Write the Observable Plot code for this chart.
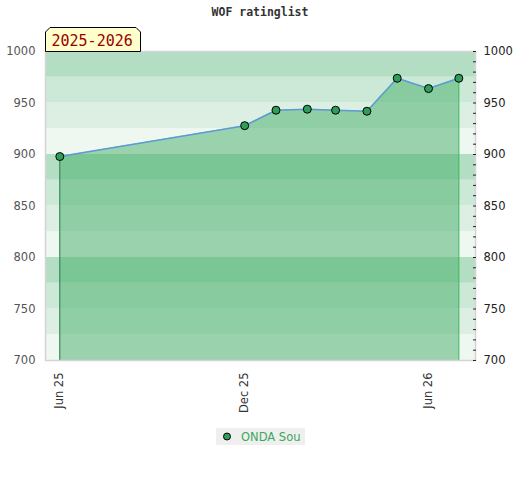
<!DOCTYPE html>
<html><head><meta charset="utf-8">
<script src="https://cdn.jsdelivr.net/npm/d3@7"></script>
<script src="https://cdn.jsdelivr.net/npm/@observablehq/plot@0.6"></script>
<style>
body{margin:0;background:#fff;}
#wrap{position:relative;width:520px;height:480px;overflow:hidden;font-family:"DejaVu Sans",sans-serif;}
#chart{position:absolute;left:0;top:0;}
#title{position:absolute;top:5px;left:0;width:520px;text-align:center;font:bold 11.5px "DejaVu Sans Mono",monospace;color:#333;}
#badge{position:absolute;left:45px;top:27px;}
#legend{position:absolute;left:216px;top:428px;width:89px;height:17px;background:#efefef;}
</style></head><body>
<div id="wrap">
<div id="chart"></div>
<div id="title">WOF ratinglist</div>
<svg id="badge" width="97" height="25"><polygon points="0.5,24.5 0.5,5 5,0.5 91,0.5 95.5,5 95.5,24.5" fill="#ffffcc" stroke="#000" stroke-width="1"/><text x="6.5" y="18.5" fill="#990000" font-family="DejaVu Sans Mono, monospace" font-size="15">2025-2026</text></svg>
<div id="legend"><svg width="89" height="17"><circle cx="11" cy="8.5" r="3.5" fill="#2e9e58" stroke="#000" stroke-width="1"/><text x="25" y="12.5" fill="#3aa85c" font-family="DejaVu Sans, sans-serif" font-size="11.5">ONDA Sou</text></svg></div>
</div>
<script>
// data
const dates = ["2025-06-01","2025-12-01","2026-01-01","2026-02-01","2026-03-01","2026-04-01","2026-05-01","2026-06-01","2026-07-01"];
const ratings = [898, 928, 943, 944, 943, 942, 974, 964, 974];
const seriesName = "ONDA Sou";
const yTicks = [700, 750, 800, 850, 900, 950, 1000];
const xTickDates = ["2025-06-01", "2025-12-01", "2026-06-01"];

// styles
const bandPalette = ["#eff7f1", "#ddeee3", "#cce8d6", "#b3dec3"];

const data = dates.map((d, i) => ({date: new Date(d), rating: ratings[i]}));
const bands = d3.range(700, 1000, 25).map((v, i) => ({lo: v, hi: v + 25, fill: bandPalette[i % 4]}));
const minor = d3.range(700, 1001, 10);
const first = data[0], last = data[data.length - 1];

const chart = Plot.plot({
  width: 520,
  height: 480,
  marginLeft: 45,
  marginRight: 45,
  marginTop: 51,
  marginBottom: 120,
  style: {fontFamily: "DejaVu Sans, sans-serif", fontSize: "11px", background: "transparent"},
  x: {type: "utc", domain: [new Date("2025-05-17T20:00Z"), new Date("2026-07-17T12:00Z")]},
  y: {domain: [700, 1000]},
  marks: [
    Plot.rect(bands, {y1: "lo", y2: "hi", fill: d => d.fill}),
    Plot.areaY(data, {x: "date", y1: 700, y2: "rating", fill: "rgb(67,173,103)", fillOpacity: 0.5}),
    Plot.ruleX([first], {x: "date", y1: 700, y2: "rating", stroke: "#2e7d4f", strokeWidth: 1}),
    Plot.ruleX([last], {x: "date", y1: 700, y2: "rating", stroke: "#2db34e", strokeWidth: 1}),
    Plot.line(data, {x: "date", y: "rating", stroke: "#5b9bd5", strokeWidth: 1.5}),
    Plot.dot(data, {x: "date", y: "rating", r: 4, fill: "#2e9e58", stroke: "#000", strokeWidth: 1}),
    Plot.frame({stroke: "#d4d4d4", strokeWidth: 1.5}),
    Plot.axisY({anchor: "left", ticks: yTicks, tickFormat: "d", tickSize: 0, tickPadding: 10, fill: "#555", fontSize: 11.5}),
    Plot.axisY({anchor: "right", ticks: yTicks, tickFormat: "d", tickSize: 0, tickPadding: 8, fill: "#222", fontSize: 11.5}),
    Plot.axisY({anchor: "right", ticks: minor, tickSize: 3, dx: -3, tickFormat: () => "", stroke: "#222"}),
    Plot.axisX({ticks: xTickDates.map(d => new Date(d)), tickFormat: d3.utcFormat("%b %y"), tickRotate: -90, tickSize: 0, tickPadding: 12, fill: "#333", fontSize: 11.5})
  ]
});
document.getElementById("chart").appendChild(chart);
</script>
</body></html>
